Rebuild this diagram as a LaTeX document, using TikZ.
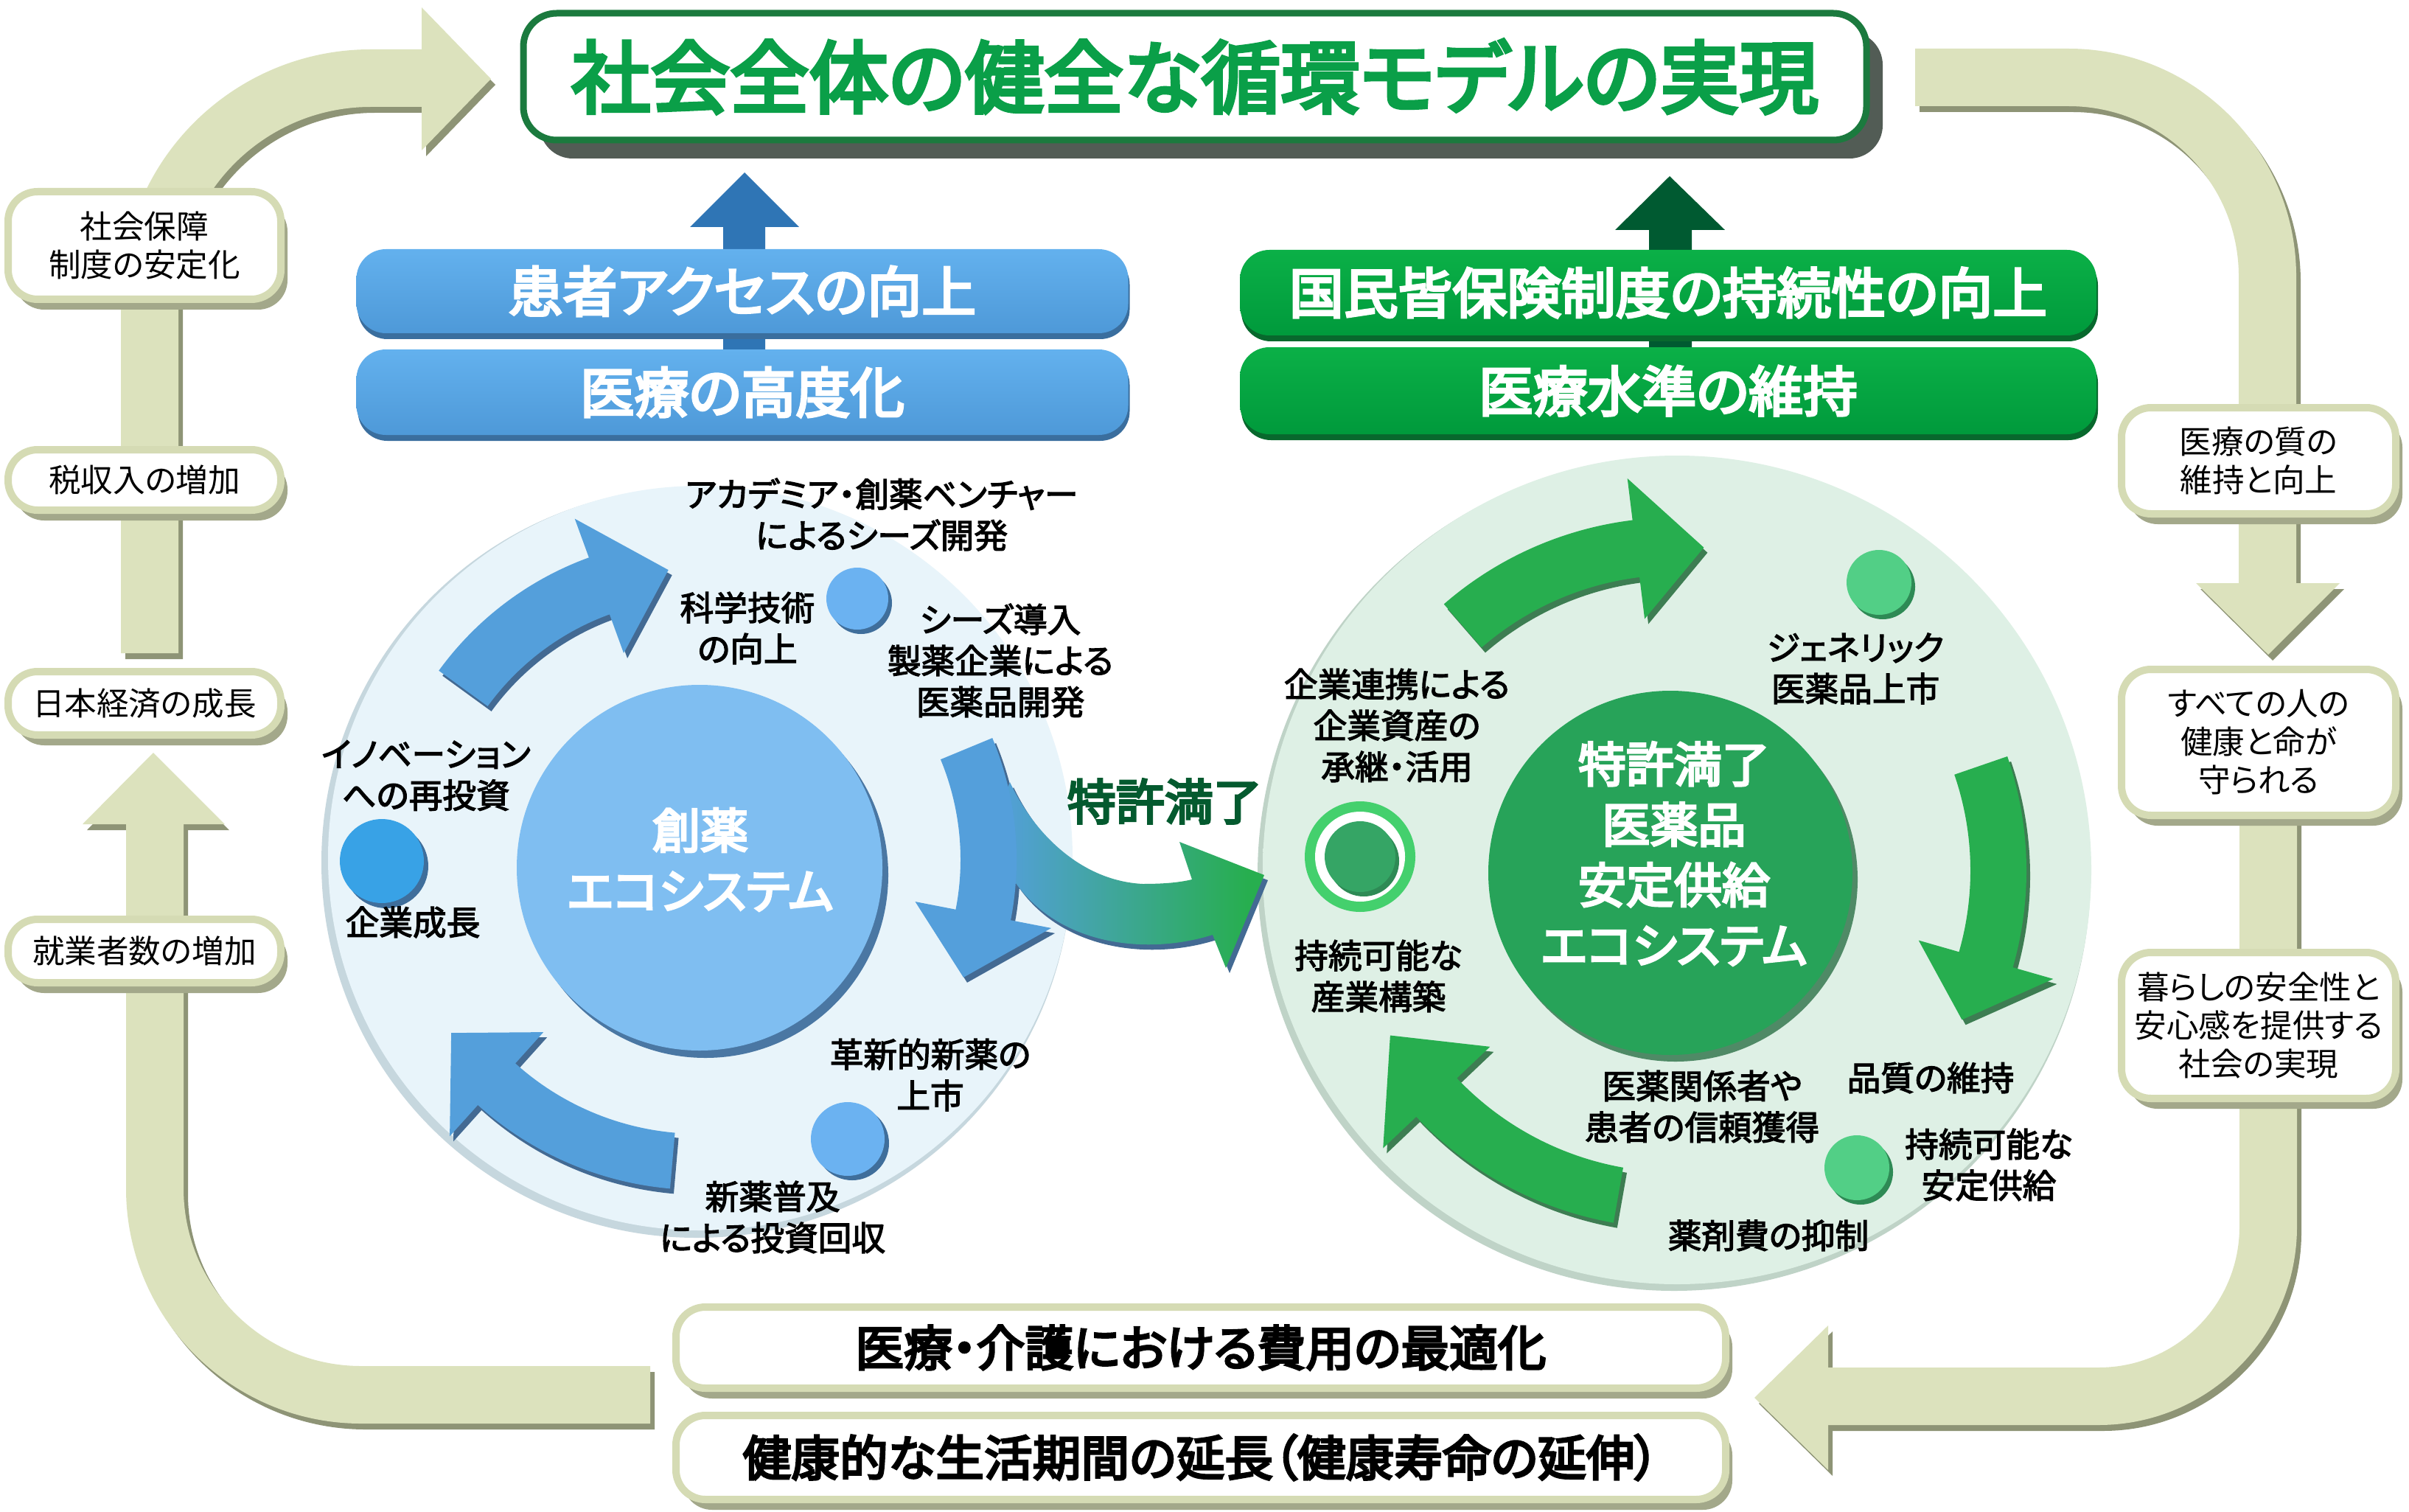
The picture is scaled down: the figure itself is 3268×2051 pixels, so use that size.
\documentclass[tikz,border=0pt]{standalone}
\usepackage{fontspec}
\newfontfamily\jp{Noto Sans CJK JP}[RawFeature=+palt]
\newfontfamily\jpm{Noto Sans CJK JP}[RawFeature=+palt,FakeBold=2.8]
\newfontfamily\jpb{Noto Sans CJK JP}[RawFeature=+palt,FakeBold=4.5]
\usetikzlibrary{shadows}
\definecolor{paleArrow}{HTML}{DCE2BD}
\definecolor{paleShadow}{HTML}{8E9476}
\definecolor{boxBorder}{HTML}{D5DBB4}
\definecolor{boxShadow}{HTML}{A3A88A}
\definecolor{titleGreen}{HTML}{0A9F48}
\definecolor{titleBorder}{HTML}{1B7A3E}
\definecolor{titleShadow}{HTML}{525C55}
\definecolor{barBlueTop}{HTML}{63B1EE}
\definecolor{barBlueBot}{HTML}{4E99D8}
\definecolor{barBlueShadow}{HTML}{3A6E9E}
\definecolor{barGreenTop}{HTML}{0BB047}
\definecolor{barGreenBot}{HTML}{009A3C}
\definecolor{barGreenShadow}{HTML}{08682D}
\definecolor{upBlue}{HTML}{2F75B5}
\definecolor{upGreen}{HTML}{005A31}
\definecolor{discBin}{HTML}{E8F4FA}
\definecolor{discBedge}{HTML}{DAEAF1}
\definecolor{discBrim}{HTML}{C6D7DE}
\definecolor{discGin}{HTML}{DEF0E5}
\definecolor{discGedge}{HTML}{D2E7DA}
\definecolor{discGrim}{HTML}{BFD3C7}
\definecolor{innerBlue}{HTML}{7FBEF1}
\definecolor{innerBlueShadow}{HTML}{4A77A3}
\definecolor{innerGreen}{HTML}{27A359}
\definecolor{innerGreenShadow}{HTML}{4F8A66}
\definecolor{arrowBlue}{HTML}{549FDB}
\definecolor{arrowBlueShadow}{HTML}{436A93}
\definecolor{arrowGreen}{HTML}{27AE4F}
\definecolor{arrowGreenShadow}{HTML}{3D7D52}
\definecolor{dotBlue}{HTML}{6BB2F1}
\definecolor{dotBlueDeep}{HTML}{38A2E6}
\definecolor{dotBlueShadow}{HTML}{3F6E9B}
\definecolor{dotGreen}{HTML}{52CF86}
\definecolor{dotGreenShadow}{HTML}{2E8A55}
\definecolor{ringGreen}{HTML}{44D06D}
\definecolor{ringInner}{HTML}{35A565}
\definecolor{tokkyoText}{HTML}{045A2F}
\pgfdeclareradialshading{discB}{\pgfpoint{0bp}{0bp}}{color(0bp)=(discBin); color(38bp)=(discBin); color(47bp)=(discBedge); color(50bp)=(discBrim)}
\pgfdeclareradialshading{discG}{\pgfpoint{0bp}{0bp}}{color(0bp)=(discGin); color(38bp)=(discGin); color(47bp)=(discGedge); color(50bp)=(discGrim)}
\pgfdeclarehorizontalshading{tokkyo}{100bp}{color(0bp)=(arrowBlue); color(28bp)=(arrowBlue); color(72bp)=(arrowGreen); color(100bp)=(arrowGreen)}
% curved block arrow: cx, cy, R, theta1, theta2 (head base), theta3 (tip), half width, head half width, style
\newcommand\carrow[9]{%
  \pgfmathsetmacro\cAa{-(#4)}%
  \pgfmathsetmacro\cAb{-(#5)}%
  \pgfmathsetmacro\cAc{-(#6)}%
  \pgfmathsetmacro\cAro{#3+#7}%
  \pgfmathsetmacro\cAri{#3-#7}%
  \pgfmathsetmacro\cAho{#3+#8}%
  \pgfmathsetmacro\cAhi{#3-#8}%
  \pgfmathsetmacro\cAxs{#1+\cAro*cos(\cAa)}%
  \pgfmathsetmacro\cAys{#2+\cAro*sin(\cAa)}%
  \pgfmathsetmacro\cAxh{#1+\cAho*cos(\cAb)}%
  \pgfmathsetmacro\cAyh{#2+\cAho*sin(\cAb)}%
  \pgfmathsetmacro\cAxt{#1+#3*cos(\cAc)}%
  \pgfmathsetmacro\cAyt{#2+#3*sin(\cAc)}%
  \pgfmathsetmacro\cAxk{#1+\cAhi*cos(\cAb)}%
  \pgfmathsetmacro\cAyk{#2+\cAhi*sin(\cAb)}%
  \pgfmathsetmacro\cAxi{#1+\cAri*cos(\cAb)}%
  \pgfmathsetmacro\cAyi{#2+\cAri*sin(\cAb)}%
  \path[#9] (\cAxs,\cAys) arc[start angle=\cAa, end angle=\cAb, radius=\cAro]
    -- (\cAxh,\cAyh) -- (\cAxt,\cAyt) -- (\cAxk,\cAyk) -- (\cAxi,\cAyi)
    arc[start angle=\cAb, end angle=\cAa, radius=\cAri] -- cycle;}
\begin{document}
\begin{tikzpicture}[x=0.1mm,y=-0.1mm,
  pale/.style={draw=paleArrow,line width=7.8mm},
  paleS/.style={draw=paleShadow,line width=7.8mm,shift={(6,8)}},
  palehead/.style={fill=paleArrow},
  paleheadS/.style={fill=paleShadow,shift={(6,8)}},
  pbox/.style={draw=boxBorder,line width=1mm,fill=white,rounded corners=4mm,inner sep=0pt,align=center,
    font=\jp\fontsize{12.4}{14.8}\selectfont,
    drop shadow={shadow xshift=0.9mm,shadow yshift=-1.4mm,fill=boxShadow,opacity=1}},
  bbox/.style={pbox,font=\jpb\fontsize{18.7}{22}\selectfont},
  titlebox/.style={draw=titleBorder,line width=0.9mm,fill=white,rounded corners=4.5mm,inner sep=0pt,
    text=titleGreen,font=\jpb\fontsize{30.6}{36}\selectfont,
    drop shadow={shadow xshift=2.2mm,shadow yshift=-2.5mm,fill=titleShadow,opacity=1}},
  barB/.style={rounded corners=4mm,inner sep=0pt,text=white,top color=barBlueTop,bottom color=barBlueBot,
    font=\jpb\fontsize{21}{24}\selectfont,
    drop shadow={shadow xshift=0.2mm,shadow yshift=-0.8mm,fill=barBlueShadow,opacity=1}},
  barG/.style={rounded corners=4mm,inner sep=0pt,text=white,top color=barGreenTop,bottom color=barGreenBot,
    font=\jpb\fontsize{21}{24}\selectfont,
    drop shadow={shadow xshift=0.2mm,shadow yshift=-0.8mm,fill=barGreenShadow,opacity=1}},
  lbl/.style={font=\jpm\fontsize{13}{15.9}\selectfont,align=center,inner sep=0pt},
  ctext/.style={font=\jpb\fontsize{18.5}{23.3}\selectfont,align=center,inner sep=0pt,text=white},
  disk/.style={circle,inner sep=0pt}
  ]
\fill[white] (0,0) rectangle (3268,2051);
\useasboundingbox (0,0) rectangle (3268,2051);

% ---- pale loop arrows ----
\draw[paleS,rounded corners=30mm] (203,886) -- (203,106) -- (585,106);
\fill[paleheadS] (572,10) -- (666,107) -- (572,204) -- cycle;
\draw[pale,rounded corners=30mm] (203,886) -- (203,106) -- (585,106);
\fill[palehead] (572,10) -- (666,107) -- (572,204) -- cycle;

\draw[paleS,rounded corners=28mm] (882,1892) -- (210,1892) -- (210,1110);
\fill[paleheadS] (112,1118) -- (208,1021) -- (305,1118) -- cycle;
\draw[pale,rounded corners=28mm] (882,1892) -- (210,1892) -- (210,1110);
\fill[palehead] (112,1118) -- (208,1021) -- (305,1118) -- cycle;

\draw[paleS,rounded corners=27mm] (2598,105) -- (3076,105) -- (3076,800);
\fill[paleheadS] (2979,791) -- (3077,888) -- (3174,791) -- cycle;
\draw[pale,rounded corners=27mm] (2598,105) -- (3076,105) -- (3076,800);
\fill[palehead] (2979,791) -- (3077,888) -- (3174,791) -- cycle;

\draw[paleS,rounded corners=23mm] (3077,1110) -- (3077,1894) -- (2470,1894);
\fill[paleheadS] (2480,1798) -- (2380,1896) -- (2480,1994) -- cycle;
\draw[pale,rounded corners=23mm] (3077,1110) -- (3077,1894) -- (2470,1894);
\fill[palehead] (2480,1798) -- (2380,1896) -- (2480,1994) -- cycle;

% ---- side and bottom boxes ----
\node[pbox,minimum width=37mm,minimum height=14.6mm] (bSoc) at (196,333) {社会保障\\制度の安定化};
\node[pbox,minimum width=37mm,minimum height=8.2mm] (bTax) at (196,651) {税収入の増加};
\node[pbox,minimum width=37mm,minimum height=8.6mm] (bEco) at (196,954) {日本経済の成長};
\node[pbox,minimum width=37mm,minimum height=8.6mm] (bEmp) at (196,1290) {就業者数の増加};
\node[pbox,minimum width=37.2mm,minimum height=14.4mm] (bQual) at (3064,625) {医療の質の\\維持と向上};
\node[pbox,minimum width=37.2mm,minimum height=19.8mm] (bAll) at (3064,1007) {すべての人の\\健康と命が\\守られる};
\node[pbox,minimum width=37.2mm,minimum height=19.8mm] (bLife) at (3064,1391) {暮らしの安全性と\\安心感を提供する\\社会の実現};
\node[bbox,minimum width=142.4mm,minimum height=11mm] (bCost) at (1629,1828) {医療・介護における費用の最適化};
\node[bbox,minimum width=142.4mm,minimum height=11.4mm] (bHealth) at (1629,1977) {健康的な生活期間の延長（健康寿命の延伸）};

% ---- title ----
\node[titlebox,minimum width=182.2mm,minimum height=17.2mm] (title) at (1621,104) {社会全体の健全な循環モデルの実現};

% ---- up arrows and bars ----
\fill[upBlue] (981,480) -- (981,308) -- (936,308) -- (1010,234) -- (1084,308) -- (1038,308) -- (1038,480) -- cycle;
\fill[upGreen] (2237,480) -- (2237,312) -- (2191,312) -- (2265,239) -- (2340,312) -- (2295,312) -- (2295,480) -- cycle;
\node[barB,minimum width=104.7mm,minimum height=11.4mm] (barB1) at (1007,395) {患者アクセスの向上};
\node[barB,minimum width=104.7mm,minimum height=11.6mm] (barB2) at (1007,532) {医療の高度化};
\node[barG,minimum width=116.2mm,minimum height=11.6mm] (barG1) at (2263,397) {国民皆保険制度の持続性の向上};
\node[barG,minimum width=116.2mm,minimum height=11.8mm] (barG2) at (2263,530) {医療水準の維持};

% ---- discs ----
\fill[discBrim] (945,1170) circle[radius=509];
\shade[shading=discB] (950,1164) circle[radius=505];
\fill[discGrim] (2271,1186) circle[radius=565];
\shade[shading=discG] (2275,1180) circle[radius=562];

% inner circles
\fill[innerBlueShadow] (957,1187) circle[radius=248];
\node[disk,fill=innerBlue,minimum size=49.6mm] (inB) at (949,1177) {};
\node[ctext] (inBt) at (950,1166) {創薬\\エコシステム};
\fill[innerGreenShadow] (2273,1193) circle[radius=247];
\node[disk,fill=innerGreen,minimum size=49.4mm] (inG) at (2266,1184) {};
\node[ctext] (inGt) at (2271,1158) {特許満了\\医薬品\\安定供給\\エコシステム};

% small dots
\fill[dotBlueShadow] (1168,818) circle[radius=42];
\node[disk,fill=dotBlue,minimum size=8.4mm] (dSci) at (1163,812) {};
\fill[dotBlueShadow] (524,1175) circle[radius=57];
\node[disk,fill=dotBlueDeep,minimum size=11.4mm] (dGrowth) at (518,1168) {};
\fill[dotBlueShadow] (1156,1551) circle[radius=50];
\node[disk,fill=dotBlue,minimum size=10mm] (dNew) at (1150,1545) {};
\fill[dotGreenShadow] (2554,796) circle[radius=44];
\node[disk,fill=dotGreen,minimum size=8.8mm] (dGen) at (2549,790) {};
\fill[dotGreenShadow] (2524,1590) circle[radius=44];
\node[disk,fill=dotGreen,minimum size=8.8mm] (dSup) at (2519,1584) {};
\node[disk,fill=ringGreen,minimum size=15mm] (dRing) at (1845,1162) {};
\fill[white] (1845,1162) circle[radius=61];
\fill[dotGreenShadow] (1850,1168) circle[radius=48];
\fill[ringInner] (1845,1162) circle[radius=48];

% ---- circular arrows: shadows ----
\carrow{948}{1166}{395}{144}{110}{96}{41}{97}{fill=arrowBlueShadow,shift={(5,7)}}
\carrow{948}{1166}{393}{22.5}{-11}{-24}{38}{94}{fill=arrowBlueShadow,shift={(5,7)}}
\carrow{948}{1166}{410}{265}{228}{215}{38}{95}{fill=arrowBlueShadow,shift={(5,7)}}
\carrow{2273}{1181}{440}{131}{97}{85}{39}{96}{fill=arrowGreenShadow,shift={(5,7)}}
\carrow{2273}{1181}{438}{19}{-16}{-27.5}{38}{95}{fill=arrowGreenShadow,shift={(5,7)}}
\carrow{2273}{1181}{447}{260}{223.5}{210}{38}{100}{fill=arrowGreenShadow,shift={(5,7)}}

% patent expiry branch
\path[fill=arrowBlueShadow,shift={(5,7)}] (1370,1061) .. controls (1405,1135) and (1470,1195) .. (1550,1199)
  .. controls (1580,1199) and (1600,1197) .. (1617,1193) -- (1600,1142) -- (1715,1187) -- (1663,1313) -- (1645,1268)
  .. controls (1560,1295) and (1440,1285) .. (1378,1198) -- (1330,1150) -- cycle;
\shade[shading=tokkyo] (1370,1061) .. controls (1405,1135) and (1470,1195) .. (1550,1199)
  .. controls (1580,1199) and (1600,1197) .. (1617,1193) -- (1600,1142) -- (1715,1187) -- (1663,1313) -- (1645,1268)
  .. controls (1560,1295) and (1440,1285) .. (1378,1198) -- (1330,1150) -- cycle;

% ---- circular arrows: faces ----
\carrow{948}{1166}{395}{144}{110}{96}{41}{97}{fill=arrowBlue}
\carrow{948}{1166}{393}{22.5}{-11}{-24}{38}{94}{fill=arrowBlue}
\carrow{948}{1166}{410}{265}{228}{215}{38}{95}{fill=arrowBlue}
\carrow{2273}{1181}{440}{131}{97}{85}{39}{96}{fill=arrowGreen}
\carrow{2273}{1181}{438}{19}{-16}{-27.5}{38}{95}{fill=arrowGreen}
\carrow{2273}{1181}{447}{260}{223.5}{210}{38}{100}{fill=arrowGreen}

% ---- labels ----
\node[lbl] (lAcad) at (1196,698) {アカデミア・創薬ベンチャー\\によるシーズ開発};
\node[lbl] (lSci) at (1014,852) {科学技術\\の向上};
\node[lbl] (lSeeds) at (1357,896) {シーズ導入\\製薬企業による\\医薬品開発};
\node[lbl] (lInnov) at (578,1052) {イノベーション\\への再投資};
\node[lbl] (lGrowth) at (560,1251) {企業成長};
\node[lbl] (lNewDrug) at (1262,1458) {革新的新薬の\\上市};
\node[lbl] (lSpread) at (1048,1651) {新薬普及\\による投資回収};
\node[lbl] (rCoop) at (1895,984) {企業連携による\\企業資産の\\承継・活用};
\node[lbl] (rGeneric) at (2517,907) {ジェネリック\\医薬品上市};
\node[lbl] (rSustInd) at (1870,1324) {持続可能な\\産業構築};
\node[lbl] (rTrust) at (2309,1501) {医薬関係者や\\患者の信頼獲得};
\node[lbl] (rQuality) at (2619,1462) {品質の維持};
\node[lbl] (rSupply) at (2698,1580) {持続可能な\\安定供給};
\node[lbl] (rCost) at (2399,1676) {薬剤費の抑制};
\node[font=\jpb\fontsize{18.8}{22}\selectfont,text=tokkyoText,inner sep=0pt] (tokkyo) at (1580,1087) {特許満了};
\end{tikzpicture}
\end{document}
